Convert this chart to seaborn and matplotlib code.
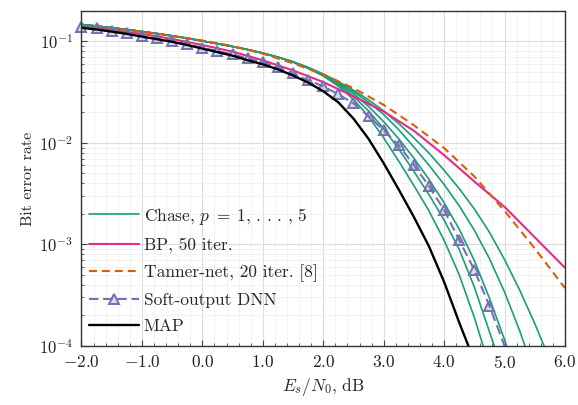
import numpy as np
import matplotlib
matplotlib.use('Agg')
import matplotlib.pyplot as plt
import matplotlib.ticker as mticker
import seaborn as sns

# ──────────────────────────────────────────────
# DATA  (BER stored as log10 values)
# ──────────────────────────────────────────────
snr_q = np.arange(-2.0, 6.01, 0.25)   # 0.25 dB grid
snr_h = np.arange(-2.0, 6.01, 0.5)    # 0.5 dB grid

# Chase p=1..5 share the same low-SNR part, then split from 1.5 dB on
chase_head = [-0.833, -0.848, -0.865, -0.882, -0.902, -0.922, -0.945,
              -0.968, -0.995, -1.022, -1.05, -1.08, -1.115, -1.155]
chase_p1 = [-1.20, -1.255, -1.32, -1.395, -1.48, -1.575, -1.685, -1.81, -1.95,
            -2.1, -2.27, -2.45, -2.65, -2.88, -3.15, -3.45, -3.78, -4.14]
chase_p2 = [-1.20, -1.258, -1.325, -1.405, -1.495, -1.60, -1.72, -1.87, -2.04,
            -2.22, -2.41, -2.62, -2.86, -3.14, -3.47, -3.85, -4.28]
chase_p3 = [-1.20, -1.26, -1.33, -1.415, -1.515, -1.64, -1.79, -1.96, -2.15,
            -2.36, -2.59, -2.85, -3.16, -3.53, -3.94, -4.4]
chase_p4 = [-1.202, -1.262, -1.335, -1.425, -1.54, -1.685, -1.86, -2.06, -2.28,
            -2.51, -2.76, -3.05, -3.42, -3.86, -4.3]
chase_p5 = [-1.205, -1.265, -1.34, -1.44, -1.57, -1.74, -1.95, -2.18, -2.42,
            -2.67, -2.96, -3.3, -3.72, -4.2]

bp_50 = [-0.855, -0.885, -0.925, -0.975, -1.035, -1.10, -1.185, -1.285, -1.40,
         -1.54, -1.69, -1.88, -2.12, -2.38, -2.63, -2.93, -3.23]
tanner_20 = [-0.845, -0.87, -0.905, -0.945, -0.99, -1.045, -1.12, -1.215, -1.325,
             -1.46, -1.625, -1.825, -2.05, -2.33, -2.67, -3.04, -3.43]

dnn = [-0.855, -0.872, -0.895, -0.914, -0.944, -0.970, -0.993, -1.027, -1.062,
       -1.095, -1.128, -1.165, -1.205, -1.256, -1.315, -1.383, -1.442, -1.521,
       -1.610, -1.737, -1.875, -2.023, -2.219, -2.426, -2.662, -2.957, -3.252,
       -3.606, -4.0]
map_ber = [-0.865, -0.882, -0.903, -0.925, -0.952, -0.978, -1.003, -1.035, -1.07,
           -1.105, -1.14, -1.185, -1.225, -1.275, -1.335, -1.405, -1.49, -1.6,
           -1.76, -1.96, -2.2, -2.46, -2.73, -3.02, -3.37, -3.77, -4.15]

x_ticks = [-2.0, -1.0, 0.0, 1.0, 2.0, 3.0, 4.0, 5.0, 6.0]

# ──────────────────────────────────────────────
# STYLE
# ──────────────────────────────────────────────
sns.set_theme(style='whitegrid')
plt.rcParams['font.family'] = ['cmr10', 'DejaVu Serif']
plt.rcParams['mathtext.fontset'] = 'cm'
plt.rcParams['axes.formatter.use_mathtext'] = True
plt.rcParams['axes.unicode_minus'] = True

pal = sns.color_palette('Dark2')
c_green, c_orange, c_purple, c_pink = pal[0], pal[1], pal[2], pal[3]

fig = plt.figure(figsize=(5.78, 4.05), dpi=100)
ax = fig.add_axes([0.141, 0.146, 0.8365, 0.827])

# ──────────────────────────────────────────────
# CURVES
# ──────────────────────────────────────────────
for i, tail in enumerate([chase_p1, chase_p2, chase_p3, chase_p4, chase_p5]):
    vals = chase_head + tail
    sns.lineplot(x=snr_q[:len(vals)], y=10.0 ** np.array(vals), ax=ax,
                 color=c_green, lw=1.2, estimator=None, sort=False,
                 label=r'Chase, $p\;=\;1,\,.\,.\,.\,,\,5$' if i == 0 else None)

sns.lineplot(x=snr_h[:len(bp_50)], y=10.0 ** np.array(bp_50), ax=ax,
             color=c_pink, lw=1.5, estimator=None, sort=False, label='BP, 50 iter.')
sns.lineplot(x=snr_h[:len(tanner_20)], y=10.0 ** np.array(tanner_20), ax=ax,
             color=c_orange, lw=1.5, ls=(0, (3.8, 2.4)), estimator=None, sort=False,
             label='Tanner-net, 20 iter. [8]')
sns.lineplot(x=snr_q[:len(dnn)], y=10.0 ** np.array(dnn), ax=ax,
             color=c_purple, lw=1.5, ls=(0, (4.5, 2.3)), estimator=None, sort=False,
             marker='^', markersize=7, markeredgewidth=1.4,
             markeredgecolor=c_purple, markerfacecolor=(*c_purple, 0.25),
             markevery=slice(0, len(dnn) - 1), clip_on=False,
             label='Soft-output DNN')
sns.lineplot(x=snr_q[:len(map_ber)], y=10.0 ** np.array(map_ber), ax=ax,
             color='black', lw=1.7, estimator=None, sort=False, label='MAP')

# ──────────────────────────────────────────────
# AXES
# ──────────────────────────────────────────────
ax.set_yscale('log')
ax.set_xlim(-2.0, 6.0)
ax.set_ylim(1e-4, 0.2)
ax.set_xticks(x_ticks)
ax.xaxis.set_major_formatter(mticker.FuncFormatter(lambda v, p: f'${v:.1f}$'))
ax.xaxis.set_minor_locator(mticker.MultipleLocator(0.2))
ax.yaxis.set_major_locator(mticker.LogLocator(base=10, numticks=10))
ax.yaxis.set_minor_locator(mticker.LogLocator(base=10, subs=np.arange(2, 10), numticks=20))
ax.yaxis.set_minor_formatter(mticker.NullFormatter())

ax.grid(True, which='major', color='#dcdcdc', lw=0.8)
ax.grid(True, which='minor', color='#f0f0f0', lw=0.6)
ax.tick_params(which='both', direction='in', bottom=True, left=True,
               color='#444444', labelcolor='#222222')
ax.tick_params(which='major', length=4, width=0.8)
ax.tick_params(which='minor', length=2.5, width=0.6)
ax.tick_params(axis='x', pad=5.5, labelsize=12.5)
ax.tick_params(axis='y', pad=6, labelsize=12)
for s in ax.spines.values():
    s.set_color('#333333'); s.set_linewidth(1.0)

ax.set_xlabel(r'$E_s/N_0$, dB', fontsize=12.5, labelpad=4)
ax.set_ylabel('Bit error rate', fontsize=11.5, labelpad=3)

ax.legend(loc='lower left', bbox_to_anchor=(-0.01, 0.0), frameon=False,
          fontsize=12.5, handlelength=2.9, labelspacing=0.62,
          handletextpad=0.25, borderaxespad=0.3)

fig.savefig('out.png', dpi=100)
